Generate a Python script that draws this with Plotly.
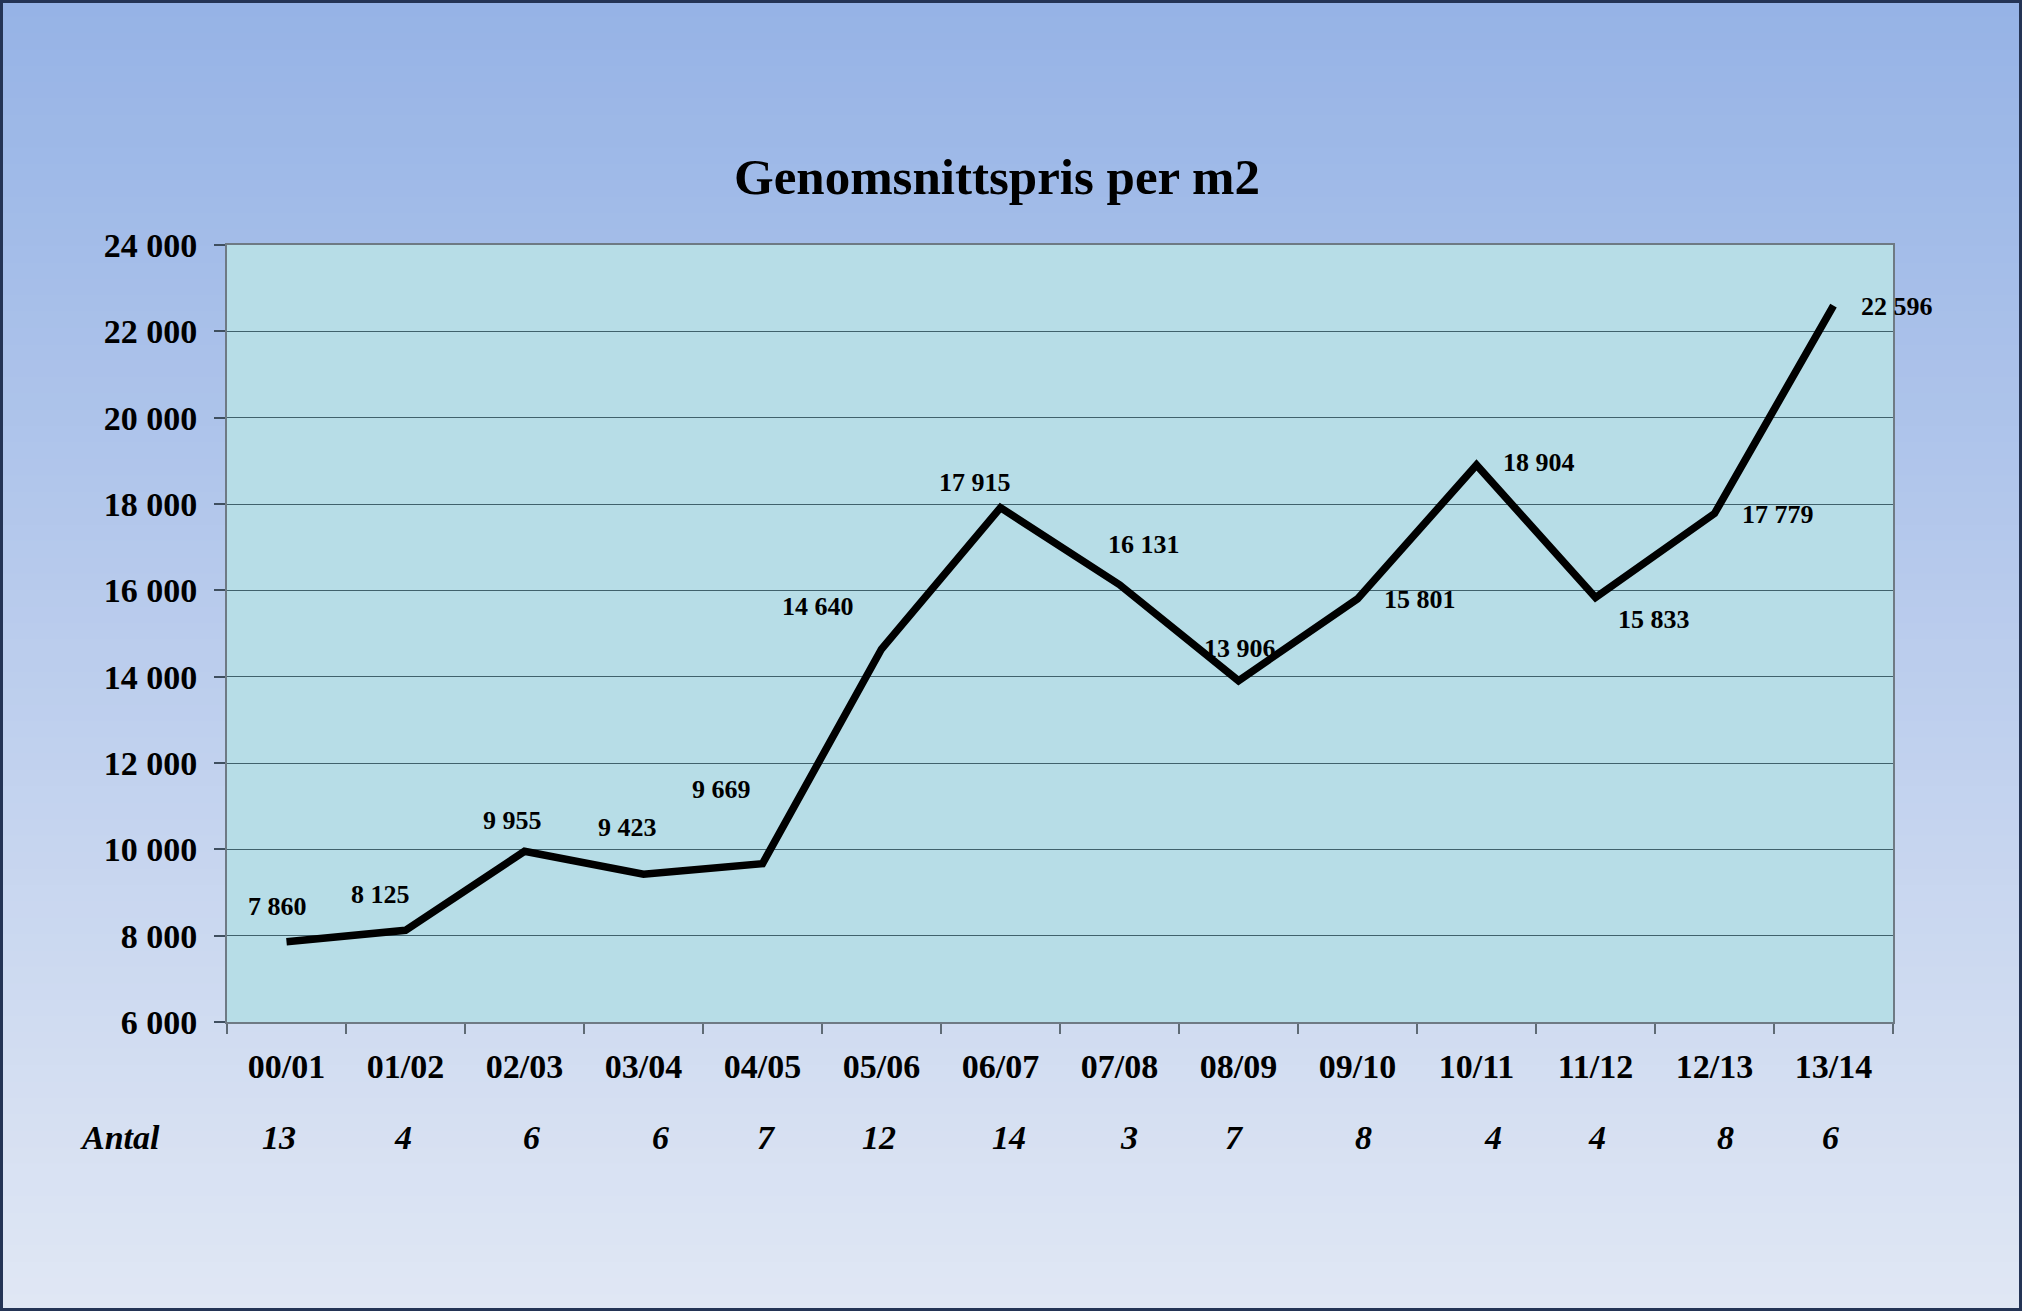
import plotly.graph_objects as go

# ---- data ----
seasons = ["00/01", "01/02", "02/03", "03/04", "04/05", "05/06", "06/07",
           "07/08", "08/09", "09/10", "10/11", "11/12", "12/13", "13/14"]
avg_price = [7860, 8125, 9955, 9423, 9669, 14640, 17915,
             16131, 13906, 15801, 18904, 15833, 17779, 22596]
antal = [13, 4, 6, 6, 7, 12, 14, 3, 7, 8, 4, 4, 8, 6]
title_text = "Genomsnittspris per m2"
antal_label = "Antal"

# ---- styling (label offsets in px: dx right, dy up) ----
label_dx = [-9, -25, -12, -16, -41, -64, -26, 24, 1, 62, 62, 58, 63, 63]
label_dy = [35, 36, 31, 47, 74, 43, 25, 40, 32, -1, 2, -22, -1, -1]
antal_dx = [-8, -3, 7, 17, 4, -3, 8, 9, -4, 6, 16, 1, 11, -3]

W, H = 2022, 1311
L, R, T, B = 227, 2022 - 1893, 245, 1311 - 1022
PW, PH = W - L - R, H - T - B
SERIF = "Times New Roman, Liberation Serif, serif"


def fmt(v):
    return f"{v:,}".replace(",", " ")


fig = go.Figure()
fig.add_trace(go.Scatter(
    x=seasons, y=avg_price, mode="lines",
    line=dict(color="black", width=7.5),
    hoverinfo="skip", showlegend=False,
))

shapes = []
# background gradient (paper coords extend beyond plot area)
top_c = (150, 179, 230)
bot_c = (224, 231, 244)
n = 80
y_top = T / PH + 1.0
y_bot = -B / PH
x0 = -L / PW
x1 = 1 + R / PW
for i in range(n):
    f = i / (n - 1)
    c = tuple(round(top_c[k] + (bot_c[k] - top_c[k]) * f) for k in range(3))
    ya = y_top - (y_top - y_bot) * i / n
    yb = y_top - (y_top - y_bot) * (i + 1) / n - 0.003
    shapes.append(dict(type="rect", xref="paper", yref="paper", x0=x0, x1=x1,
                       y0=yb, y1=ya, fillcolor=f"rgb{c}", line=dict(width=0),
                       layer="below"))
# plot area fill
shapes.append(dict(type="rect", xref="paper", yref="paper", x0=0, x1=1, y0=0, y1=1,
                   fillcolor="#b7dde7", line=dict(width=0), layer="below"))
# outer border
shapes.append(dict(type="rect", xref="paper", yref="paper",
                   x0=x0 + 1.5 / PW, x1=x1 - 1.5 / PW,
                   y0=y_bot + 1.5 / PH, y1=y_top - 1.5 / PH,
                   fillcolor="rgba(0,0,0,0)", line=dict(color="#243455", width=3),
                   layer="above"))

annotations = []
for s, v, dx, dy in zip(seasons, avg_price, label_dx, label_dy):
    annotations.append(dict(
        x=s, y=v, xref="x", yref="y", text=fmt(v), showarrow=False,
        xshift=dx, yshift=dy, xanchor="center", yanchor="middle",
        font=dict(family=SERIF, size=26, color="black", weight="bold"),
    ))
for s, a, dx in zip(seasons, antal, antal_dx):
    annotations.append(dict(
        x=s, y=-115 / PH, xref="x", yref="paper", text=str(a), showarrow=False,
        xshift=dx, xanchor="center", yanchor="middle",
        font=dict(family=SERIF, size=34, color="black", weight="bold", style="italic"),
    ))
annotations.append(dict(
    x=(120 - L) / PW, y=-115 / PH, xref="paper", yref="paper", text=antal_label,
    showarrow=False, xanchor="center", yanchor="middle",
    font=dict(family=SERIF, size=34, color="black", weight="bold", style="italic"),
))

fig.update_layout(
    width=W, height=H,
    margin=dict(l=L, r=R, t=T, b=B, autoexpand=False),
    paper_bgcolor="#c0cfee",
    plot_bgcolor="rgba(0,0,0,0)",
    separators=", ",
    title=dict(text=title_text, x=(997 - L) / PW, xref="paper", xanchor="center",
               y=1 - 176 / H, yref="container", yanchor="middle",
               font=dict(family=SERIF, size=51, color="black", weight="bold")),
    shapes=shapes,
    annotations=annotations,
    xaxis=dict(
        type="category", tickson="boundaries", ticks="outside", ticklen=10,
        tickwidth=1.5, tickcolor="#5f6b75",
        showline=True, linecolor="#6e7a84", linewidth=2, mirror=True,
        showgrid=False, range=[-0.5, len(seasons) - 0.5],
        tickfont=dict(family=SERIF, size=34, color="black", weight="bold"),
        ticklabelstandoff=13,
    ),
    yaxis=dict(
        range=[6000, 24000], dtick=2000, tick0=6000, tickformat=",d",
        ticks="outside", ticklen=11, tickwidth=1.5, tickcolor="#3f4f5f",
        showline=True, linecolor="#6e7a84", linewidth=2, mirror=True,
        showgrid=True, gridcolor="#40616c", gridwidth=1.3,
        zeroline=False,
        tickfont=dict(family=SERIF, size=34, color="black", weight="bold"),
        ticklabelstandoff=10,
    ),
)

fig.write_html("out.html")
